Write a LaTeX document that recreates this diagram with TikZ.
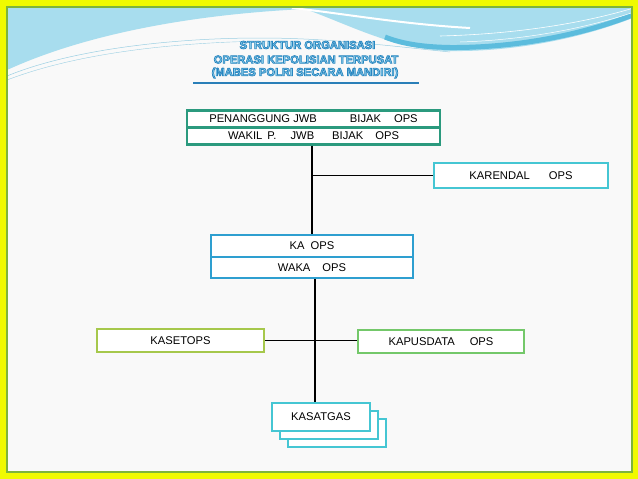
\documentclass[tikz,border=0pt]{standalone}
\usepackage{fontspec}
\setmainfont{Liberation Sans}
\definecolor{framey}{HTML}{F0FA00}
\definecolor{frameg}{HTML}{7DB43A}
\definecolor{bgc}{HTML}{F9F9F9}
\definecolor{swl}{HTML}{A8DDEE}
\definecolor{swd}{HTML}{5CBCDD}
\definecolor{swline}{HTML}{9ACFE3}
\definecolor{tealc}{HTML}{2B9A7E}
\definecolor{cyanc}{HTML}{45C6D3}
\definecolor{blueb}{HTML}{2E9FD0}
\definecolor{limec}{HTML}{A6C84C}
\definecolor{greenc}{HTML}{74C86A}
\definecolor{titlefill}{HTML}{8FD3EE}
\definecolor{ulinec}{HTML}{2A7FB8}
\newcommand\outlinetext[1]{\special{pdf:literal direct 2 Tr 0.7 w 0.16 0.52 0.75 RG}#1\special{pdf:literal direct 0 Tr}}
\tikzset{
  boxbase/.style={draw, fill=white, line width=2.4pt, inner sep=0pt,
    font=\fontsize{11.2}{13}\selectfont, text=black},
  tealbox/.style={boxbase, draw=tealc, minimum width=253pt, minimum height=17pt},
  kabox/.style={boxbase, draw=blueb, minimum width=202pt, minimum height=21.5pt},
  cyanbox/.style={boxbase, draw=cyanc},
  limebox/.style={boxbase, draw=limec, minimum width=167pt, minimum height=23pt},
  greenbox/.style={boxbase, draw=greenc, minimum width=166pt, minimum height=23pt},
  satbox/.style={boxbase, draw=cyanc, minimum width=98pt, minimum height=28pt},
  vconn/.style={draw=black, line width=1.8pt},
  hconn/.style={draw=black, line width=1.2pt},
  titlestyle/.style={inner sep=0pt, text=titlefill, font=\fontsize{11.2}{13}\selectfont\bfseries},
}
\begin{document}
\begin{tikzpicture}[x=1pt,y=-1pt]
\useasboundingbox (0,0) rectangle (638,479);
% frame and background
\fill[framey] (0,0) rectangle (638,479);
\fill[bgc] (7,7) rectangle (632,472);
\begin{scope}
\clip (7,7) rectangle (632,472);
\fill[swl] (0,0) -- (640,0) -- (640,15) .. controls (590,36) and (520,52) .. (450,51)
  .. controls (395,50) and (350,25) .. (305,9)
  .. controls (200,14) and (90,32) .. (7,70) -- (0,74) -- cycle;
\draw[swd, line width=5pt] (640,12) .. controls (590,33) and (520,48) .. (450,47.5)
  .. controls (420,47) and (400,43) .. (385,37);
\draw[white, line width=2pt] (292,8) .. controls (340,13) and (400,24) .. (470,28);
\draw[white, line width=0.6pt] (440,36) .. controls (520,34) and (590,22) .. (640,6);
\draw[white, line width=0.5pt] (460,42) .. controls (530,40) and (595,26) .. (640,10);
\draw[swline, line width=0.5pt] (7,76) .. controls (70,50) and (170,38) .. (260,38)
  .. controls (330,38) and (390,46) .. (450,52);
\draw[swline, line width=0.4pt] (7,80) .. controls (80,52) and (180,42) .. (270,41);
\end{scope}
\draw[frameg, line width=1.5pt] (7,7) rectangle (632,472);

% title
\node[titlestyle] (t1) at (307.5,45) {\outlinetext{STRUKTUR ORGANISASI}};
\node[titlestyle] (t2) at (306,59.5) {\outlinetext{OPERASI KEPOLISIAN TERPUSAT}};
\node[titlestyle] (t3) at (305,73) {\outlinetext{(MABES POLRI SECARA MANDIRI)}};
\draw[ulinec, line width=2.5pt] (193,83) -- (419,83);

% boxes
\node[tealbox] (pj) at (313.5,119) {PENANGGUNG JWB\hspace{33pt}BIJAK\hspace{13pt}OPS};
\node[tealbox] (wk) at (313.5,136) {WAKIL\hspace{5pt}P.\hspace{14pt}JWB\hspace{18pt}BIJAK\hspace{12pt}OPS};
\node[cyanbox, minimum width=174pt, minimum height=25pt] (kr) at (521,175.5) {KARENDAL\hspace{19pt}OPS};
\node[kabox] (ka) at (312,246) {KA\hspace{6pt}OPS};
\node[kabox] (wka) at (312,267.5) {WAKA\hspace{12pt}OPS\hspace{6pt}};
\node[limebox] (ks) at (180.5,340.5) {KASETOPS\hspace{15pt}};
\node[greenbox] (kp) at (441,341.5) {KAPUSDATA\hspace{15pt}OPS\hspace{12pt}};
\node[satbox] (s3) at (337,433) {};
\node[satbox] (s2) at (329,425) {};
\node[satbox] (s1) at (321,417) {KASATGAS\hspace{14pt}};

% connectors
\coordinate (j1) at (wk.south |- kr.west);
\draw[vconn] ([xshift=-1.5pt]wk.south) -- ([xshift=-1.5pt]wk.south |- ka.north);
\draw[hconn] ([xshift=-1.5pt]j1) -- (kr.west);
\draw[vconn] ([xshift=3pt]wka.south) -- ([xshift=-6pt]s1.north);
\draw[hconn] (ks.east) -- (ks.east -| kp.west);
\end{tikzpicture}
\end{document}
